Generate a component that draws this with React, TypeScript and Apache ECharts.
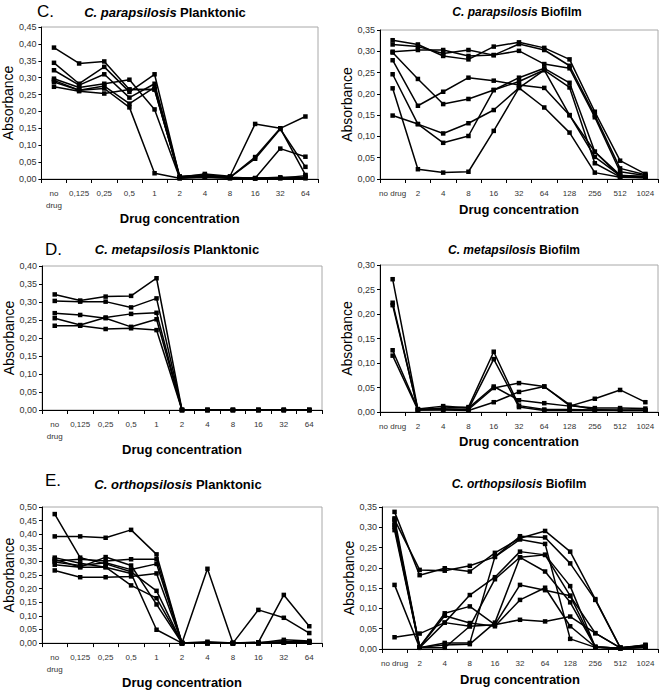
import React, { useEffect, useRef } from 'react';
import * as echarts from 'echarts';

const catsPlank = ['no\ndrug', '0,125', '0,25', '0,5', '1', '2', '4', '8', '16', '32', '64'];
const catsBio = ['no drug', '2', '4', '8', '16', '32', '64', '128', '256', '512', '1024'];

const cParaPlank = [
  [0.389, 0.342, 0.348, 0.265, 0.265, 0.005, 0.010, 0.005, 0.065, 0.150, 0.185],
  [0.344, 0.282, 0.332, 0.258, 0.310, 0.005, 0.015, 0.008, 0.163, 0.150, 0.012],
  [0.322, 0.278, 0.310, 0.241, 0.282, 0.008, 0.012, 0.005, 0.060, 0.148, 0.036],
  [0.297, 0.271, 0.282, 0.294, 0.206, 0.003, 0.005, 0.002, 0.002, 0.090, 0.066],
  [0.292, 0.263, 0.275, 0.223, 0.271, 0.003, 0.005, 0.003, 0.002, 0.005, 0.005],
  [0.287, 0.263, 0.268, 0.212, 0.017, 0.002, 0.010, 0.005, 0.002, 0.003, 0.002],
  [0.273, 0.260, 0.253, 0.265, 0.265, 0.005, 0.008, 0.004, 0.003, 0.002, 0.010],
];
const cParaBio = [
  [0.326, 0.316, 0.289, 0.281, 0.311, 0.321, 0.308, 0.281, 0.158, 0.043, 0.012],
  [0.316, 0.311, 0.295, 0.303, 0.291, 0.317, 0.303, 0.266, 0.150, 0.025, 0.010],
  [0.299, 0.303, 0.303, 0.289, 0.291, 0.301, 0.270, 0.260, 0.145, 0.017, 0.008],
  [0.297, 0.235, 0.176, 0.188, 0.209, 0.238, 0.260, 0.226, 0.064, 0.009, 0.005],
  [0.279, 0.172, 0.205, 0.238, 0.231, 0.221, 0.214, 0.150, 0.052, 0.008, 0.006],
  [0.246, 0.129, 0.085, 0.101, 0.209, 0.229, 0.256, 0.215, 0.037, 0.005, 0.004],
  [0.149, 0.129, 0.107, 0.131, 0.162, 0.214, 0.256, 0.150, 0.064, 0.006, 0.003],
  [0.213, 0.023, 0.015, 0.017, 0.113, 0.214, 0.168, 0.109, 0.015, 0.004, 0.003],
];
const cMetaPlank = [
  [0.321, 0.304, 0.315, 0.317, 0.366, 0, 0, 0, 0, 0, 0],
  [0.303, 0.301, 0.301, 0.285, 0.310, 0, 0, 0, 0, 0, 0],
  [0.269, 0.264, 0.255, 0.231, 0.252, 0, 0, 0, 0, 0, 0],
  [0.255, 0.236, 0.257, 0.267, 0.270, 0, 0, 0, 0, 0, 0],
  [0.234, 0.234, 0.225, 0.227, 0.222, 0, 0, 0, 0, 0, 0],
];
const cMetaBio = [
  [0.271, 0.005, 0.008, 0.010, 0.123, 0.013, 0.005, 0.005, 0.004, 0.004, 0.004],
  [0.223, 0.004, 0.005, 0.006, 0.108, 0.010, 0.003, 0.003, 0.003, 0.003, 0.003],
  [0.218, 0.005, 0.006, 0.005, 0.049, 0.059, 0.052, 0.013, 0.008, 0.008, 0.007],
  [0.126, 0.006, 0.012, 0.008, 0.052, 0.024, 0.018, 0.012, 0.027, 0.045, 0.020],
  [0.115, 0.004, 0.004, 0.003, 0.020, 0.041, 0.052, 0.015, 0.005, 0.003, 0.003],
];
const cOrthoPlank = [
  [0.474, 0.314, 0.291, 0.262, 0.192, 0, 0.005, 0, 0.002, 0.005, 0.003],
  [0.392, 0.392, 0.387, 0.416, 0.326, 0, 0.273, 0, 0.122, 0.093, 0.037],
  [0.308, 0.279, 0.316, 0.285, 0.142, 0, 0, 0, 0.003, 0.177, 0.062],
  [0.302, 0.308, 0.302, 0.308, 0.308, 0, 0, 0, 0, 0.012, 0.008],
  [0.314, 0.293, 0.279, 0.256, 0.049, 0, 0, 0, 0, 0.003, 0.003],
  [0.288, 0.279, 0.279, 0.212, 0.165, 0, 0, 0, 0, 0.002, 0.002],
  [0.267, 0.242, 0.242, 0.245, 0.256, 0, 0, 0, 0, 0.002, 0.005],
  [0.298, 0.285, 0.295, 0.270, 0.291, 0, 0, 0, 0, 0.002, 0.004],
];
const cOrthoBio = [
  [0.338, 0.182, 0.199, 0.191, 0.237, 0.273, 0.291, 0.240, 0.123, 0.003, 0.008],
  [0.319, 0.195, 0.193, 0.205, 0.227, 0.278, 0.275, 0.211, 0.121, 0.003, 0.010],
  [0.305, 0.005, 0.088, 0.105, 0.060, 0.158, 0.145, 0.131, 0.039, 0.003, 0.005],
  [0.301, 0.003, 0.065, 0.133, 0.177, 0.240, 0.232, 0.155, 0.005, 0.002, 0.004],
  [0.293, 0.003, 0.015, 0.015, 0.227, 0.270, 0.259, 0.025, 0.004, 0.002, 0.005],
  [0.158, 0.003, 0.003, 0.056, 0.172, 0.226, 0.191, 0.115, 0.005, 0.002, 0.004],
  [0.029, 0.038, 0.065, 0.056, 0.060, 0.072, 0.068, 0.080, 0.039, 0.003, 0.005],
  [0.322, 0.005, 0.082, 0.064, 0.056, 0.121, 0.151, 0.056, 0.005, 0.002, 0.006],
  [0.312, 0.004, 0.010, 0.012, 0.065, 0.226, 0.232, 0.131, 0.005, 0.002, 0.010],
];

const FONT = '"Liberation Sans", Arial, Helvetica, sans-serif';

const panels = [
  { species: 'C. parapsilosis', kind: 'Planktonic', cats: catsPlank, data: cParaPlank, yMax: 0.45,
    grid: { left: 38, top: 27, width: 280, height: 152 }, xGap: 31, yGap: 22, tx: 165, ty: 12, tf: 13 },
  { species: 'C. parapsilosis', kind: 'Biofilm', cats: catsBio, data: cParaBio, yMax: 0.35,
    grid: { left: 380, top: 30, width: 278, height: 149 }, xGap: 24, yGap: 24, tx: 517, ty: 12, tf: 12 },
  { species: 'C. metapsilosis', kind: 'Planktonic', cats: catsPlank, data: cMetaPlank, yMax: 0.40,
    grid: { left: 42, top: 266, width: 280, height: 144 }, xGap: 33, yGap: 24, tx: 177, ty: 249, tf: 13 },
  { species: 'C. metapsilosis', kind: 'Biofilm', cats: catsBio, data: cMetaBio, yMax: 0.30,
    grid: { left: 380, top: 265, width: 278, height: 147 }, xGap: 23, yGap: 18, tx: 514, ty: 250, tf: 12 },
  { species: 'C. orthopsilosis', kind: 'Planktonic', cats: catsPlank, data: cOrthoPlank, yMax: 0.50,
    grid: { left: 42, top: 507, width: 280, height: 143 }, xGap: 26, yGap: 26, tx: 178, ty: 484, tf: 13 },
  { species: 'C. orthopsilosis', kind: 'Biofilm', cats: catsBio, data: cOrthoBio, yMax: 0.35,
    grid: { left: 382, top: 507, width: 276, height: 142 }, xGap: 24, yGap: 24, tx: 519, ty: 484, tf: 12 },
];

const letters = [
  { t: 'C.', x: 37, y: 11 },
  { t: 'D.', x: 45, y: 249 },
  { t: 'E.', x: 45, y: 480 },
];

export default function App() {
  const ref = useRef<HTMLDivElement>(null);
  useEffect(() => {
    if (!ref.current) return;
    const chart = echarts.init(ref.current, undefined, { renderer: 'svg' });
    const grid = panels.map((p) => ({
      ...p.grid, show: true, borderColor: '#a8a8a8', borderWidth: 1, backgroundColor: '#fff', containLabel: false,
    }));
    const xAxis = panels.map((p, i) => ({
      type: 'category', gridIndex: i, data: p.cats, boundaryGap: true,
      axisLine: { lineStyle: { color: '#000', width: 1 } },
      axisTick: { show: true, length: 4, lineStyle: { color: '#000' } },
      axisLabel: { fontSize: 8, color: '#333', fontFamily: FONT, margin: 8, interval: 0, lineHeight: 12 },
      name: 'Drug concentration', nameLocation: 'middle', nameGap: p.xGap,
      nameTextStyle: { fontSize: 13, fontWeight: 'bold', color: '#000', fontFamily: FONT },
      splitLine: { show: false },
    }));
    const yAxis = panels.map((p, i) => ({
      type: 'value', gridIndex: i, min: 0, max: p.yMax, interval: 0.05,
      axisLine: { show: true, lineStyle: { color: '#000', width: 1 } },
      axisTick: { show: true, length: 3, lineStyle: { color: '#000' } },
      axisLabel: { fontSize: 9, color: '#333', fontFamily: FONT, margin: 5,
        formatter: (v: number) => v.toFixed(2).replace('.', ',') },
      splitLine: { show: false },
      name: 'Absorbance', nameLocation: 'middle', nameGap: p.yGap,
      nameTextStyle: { fontSize: 14, color: '#000', fontFamily: FONT },
    }));
    const series: any[] = [];
    panels.forEach((p, i) => {
      p.data.forEach((d) => {
        series.push({
          type: 'line', xAxisIndex: i, yAxisIndex: i, data: d, symbol: 'rect', symbolSize: 4.5,
          showAllSymbol: true, clip: false, silent: true,
          lineStyle: { color: '#000', width: 1.5 }, itemStyle: { color: '#000' },
        });
      });
    });
    const graphic: any[] = [];
    panels.forEach((p) => {
      graphic.push({
        type: 'text', x: p.tx, y: p.ty, silent: true,
        style: {
          text: '{i|' + p.species + '} {b|' + p.kind + '}',
          align: 'center', verticalAlign: 'middle',
          rich: {
            i: { fontStyle: 'italic', fontWeight: 'bold', fontSize: p.tf, fontFamily: FONT, fill: '#000' },
            b: { fontWeight: 'bold', fontSize: p.tf, fontFamily: FONT, fill: '#000' },
          },
        },
      });
    });
    letters.forEach((l) => {
      graphic.push({
        type: 'text', x: l.x, y: l.y, silent: true,
        style: { text: l.t, fontSize: 17, fontFamily: FONT, fill: '#000', align: 'left', verticalAlign: 'middle' },
      });
    });
    chart.setOption({
      animation: false,
      backgroundColor: '#fff',
      grid, xAxis, yAxis, series, graphic,
    });
    return () => chart.dispose();
  }, []);
  return <div ref={ref} style={{ position: 'absolute', left: 0, top: 0, width: 661, height: 690 }} />;
}
